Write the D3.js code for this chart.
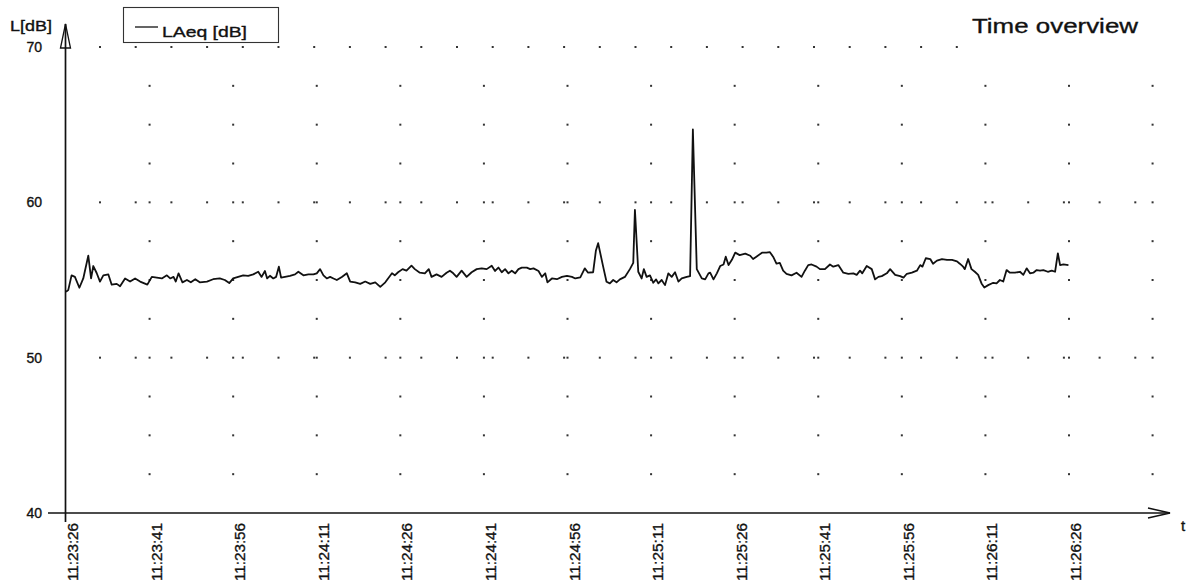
<!DOCTYPE html>
<html>
<head>
<meta charset="utf-8">
<script src="https://cdn.jsdelivr.net/npm/d3@7/dist/d3.min.js"></script>
<style>
  html, body { margin: 0; padding: 0; background: #ffffff; }
  svg { display: block; font-family: "Liberation Sans", Arial, sans-serif; }
  .lbl { stroke: #111; stroke-width: 0.35px; }
</style>
</head>
<body>
<svg id="chart" width="1187" height="588"></svg>
<script>
// ---- data (seconds after 11:23:26, LAeq in dB) ----
const seconds = [
  0.0, 0.4, 1.0, 1.6, 2.4, 3.1, 4.0, 4.5, 4.9, 5.5, 6.1, 6.7, 7.6, 8.2, 9.1, 9.7, 10.6, 11.5, 12.4, 13.3,
  14.6, 15.4, 16.3, 17.2, 18.1, 18.7, 19.3, 19.7, 20.2, 20.9, 21.7, 22.4, 23.2, 24.0, 25.3, 26.4, 27.6, 28.5, 29.3, 30.0,
  30.9, 31.8, 32.7, 33.6, 34.5, 35.1, 35.7, 36.1, 36.6, 37.2, 37.7, 38.2, 38.6, 39.3, 40.2, 41.1, 41.7, 42.6, 43.5, 44.4,
  45.0, 45.6, 46.2, 46.8, 47.4, 48.0, 48.6, 49.5, 50.4, 51.0, 51.9, 52.8, 53.7, 54.6, 55.5, 56.4, 57.3, 57.8, 58.5, 59.0,
  59.6, 60.4, 61.1, 62.0, 62.6, 63.5, 64.4, 65.1, 65.6, 66.5, 67.4, 68.3, 68.9, 69.5, 70.1, 71.0, 71.9, 72.8, 73.7, 74.6,
  75.5, 76.4, 77.0, 77.6, 78.2, 78.8, 79.4, 80.0, 80.6, 81.2, 81.8, 82.7, 83.3, 83.9, 84.8, 85.4, 86.0, 86.4, 87.2, 88.1,
  89.0, 89.9, 90.8, 91.4, 92.3, 93.1, 93.7, 94.6, 95.1, 95.5, 96.4, 97.0, 97.6, 98.2, 98.8, 99.4, 100.3, 101.2, 101.8, 102.1,
  102.7, 103.3, 103.7, 104.2, 104.8, 105.4, 105.9, 106.3, 106.9, 107.5, 108.1, 108.7, 109.3, 109.9, 110.5, 111.4, 112.0, 112.5, 113.2, 114.1,
  114.7, 115.3, 115.6, 116.2, 116.8, 117.4, 118.0, 118.4, 118.9, 119.5, 120.1, 120.9, 121.9, 122.8, 123.3, 123.9, 124.9, 125.7, 126.3, 126.9,
  127.5, 128.1, 128.7, 129.3, 130.2, 131.1, 132.0, 132.6, 133.2, 133.8, 134.7, 135.3, 136.2, 137.1, 137.7, 138.6, 139.5, 140.4, 141.3, 141.9,
  142.5, 142.9, 143.7, 144.6, 145.2, 145.8, 146.4, 147.3, 147.9, 148.8, 149.7, 150.3, 150.9, 151.8, 152.7, 153.3, 153.7, 154.3, 155.1, 155.6,
  156.3, 157.2, 158.1, 159.0, 159.9, 160.4, 161.0, 161.3, 161.9, 162.5, 163.1, 163.7, 164.3, 164.8, 165.5, 166.4, 167.0, 167.6, 168.2, 168.8,
  169.4, 170.3, 171.2, 171.8, 172.4, 173.0, 173.6, 174.2, 174.8, 175.4, 176.2, 176.9, 177.5, 178.0, 178.4, 179.0, 179.9
];
const laeq = [
  54.24, 54.35, 55.3, 55.2, 54.5, 55.1, 56.57, 55.1, 55.9, 55.45, 54.9, 55.3, 55.36, 54.7, 54.75, 54.6, 55.1, 54.9, 55.1, 54.9,
  54.7, 55.2, 55.15, 55.1, 55.3, 55.1, 55.2, 54.9, 55.43, 54.85, 55.0, 54.85, 55.05, 54.85, 54.9, 55.05, 55.1, 55.0, 54.8, 55.1,
  55.2, 55.3, 55.27, 55.36, 55.53, 55.2, 55.58, 55.1, 55.27, 55.1, 55.2, 55.86, 55.15, 55.2, 55.27, 55.36, 55.53, 55.3, 55.36, 55.36,
  55.43, 55.7, 55.3, 55.1, 55.2, 55.1, 55.0, 55.2, 55.43, 54.9, 54.85, 54.75, 54.9, 54.75, 54.85, 54.56, 54.85, 55.1, 55.43, 55.3,
  55.5, 55.7, 55.6, 55.92, 55.7, 55.47, 55.43, 55.7, 55.2, 55.36, 55.2, 55.47, 55.6, 55.43, 55.2, 55.6, 55.2, 55.5, 55.7, 55.75,
  55.7, 55.92, 55.58, 55.8, 55.5, 55.7, 55.43, 55.6, 55.43, 55.7, 55.8, 55.8, 55.7, 55.75, 55.58, 55.2, 55.43, 54.85, 55.1, 55.05,
  55.2, 55.27, 55.2, 55.1, 55.17, 55.75, 55.47, 55.5, 56.9, 57.37, 55.86, 54.89, 54.78, 55.0, 54.85, 55.04, 55.2, 55.7, 56.1, 59.52,
  55.53, 55.1, 55.7, 55.2, 55.3, 54.82, 55.04, 54.78, 55.0, 54.67, 55.43, 55.2, 55.5, 54.9, 55.1, 55.2, 55.25, 64.69, 55.7, 55.1,
  55.04, 55.43, 55.47, 55.04, 55.43, 55.9, 56.0, 56.5, 55.96, 56.3, 56.76, 56.6, 56.7, 56.56, 56.35, 56.5, 56.76, 56.76, 56.8, 56.5,
  56.05, 56.1, 55.6, 55.4, 55.3, 55.47, 55.2, 55.6, 55.96, 56.0, 55.86, 55.7, 55.7, 56.0, 55.86, 55.96, 55.47, 55.4, 55.43, 55.33,
  55.6, 55.43, 55.9, 55.7, 55.04, 55.2, 55.25, 55.43, 55.7, 55.33, 55.25, 55.15, 55.4, 55.47, 55.6, 55.96, 55.86, 56.4, 56.35, 56.05,
  56.25, 56.35, 56.3, 56.3, 56.2, 56.05, 55.86, 55.7, 56.35, 55.7, 55.53, 55.33, 54.78, 54.52, 54.67, 54.82, 54.78, 55.0, 54.9, 55.64,
  55.47, 55.47, 55.53, 55.33, 55.75, 55.43, 55.47, 55.64, 55.6, 55.64, 55.53, 55.6, 55.53, 56.72, 55.96, 56.0, 55.96
];
const tickSeconds = [0, 15, 30, 45, 60, 75, 90, 105, 120, 135, 150, 165, 180];
const tickLabels = ["11:23:26", "11:23:41", "11:23:56", "11:24:11", "11:24:26", "11:24:41", "11:24:56",
                    "11:25:11", "11:25:26", "11:25:41", "11:25:56", "11:26:11", "11:26:26"];
const yTicks = [40, 50, 60, 70];
const yTickLabels = ["40", "50", "60", "70"];
const gridRows = [42.5, 45, 47.5, 50, 52.5, 55, 57.5, 60, 62.5, 65, 67.5];
const gridCols = [15, 30, 45, 60, 75, 90, 105, 120, 135, 150, 165, 180, 195];
const denseRows = [50, 60, 70];
const seriesName = "LAeq [dB]";

// ---- drawing ----
const svg = d3.select("#chart");
const x = d3.scaleLinear().domain([0, 180]).range([66, 1069]);
const y = d3.scaleLinear().domain([40, 70]).range([513, 47]);
const ink = "#111";
const dotInk = "#333";

// dotted grid: column dots every 2.5 dB
const g = svg.append("g");
gridRows.forEach(r => {
  gridCols.forEach(c => {
    g.append("rect").attr("x", x(c) - 1).attr("y", y(r) - 1)
      .attr("width", 2).attr("height", 2).attr("fill", dotInk);
  });
});
// dense dots on the 10 dB rows
denseRows.forEach(r => {
  const xEnd = r === 70 ? 965 : 1160;
  for (let px = 100; px <= xEnd; px += 35.7) {
    g.append("rect").attr("x", px - 1).attr("y", y(r) - 1)
      .attr("width", 2).attr("height", 2).attr("fill", dotInk);
  }
});

// axes
const x0 = x(0) - 0.5;
const xTip = 1170;
svg.append("line").attr("x1", 48).attr("x2", xTip).attr("y1", y(40)).attr("y2", y(40))
  .attr("stroke", ink).attr("stroke-width", 1.7);
svg.append("path")
  .attr("d", `M${xTip - 22},${y(40) - 5} L${xTip},${y(40)} L${xTip - 22},${y(40) + 5}`)
  .attr("fill", "none").attr("stroke", ink).attr("stroke-width", 1.5);
svg.append("line").attr("x1", x0).attr("x2", x0).attr("y1", y(40) + 9).attr("y2", 24)
  .attr("stroke", ink).attr("stroke-width", 1.7);
svg.append("path")
  .attr("d", `M${x0 - 5},48 L${x0},24 L${x0 + 5},48 Z`)
  .attr("fill", "none").attr("stroke", ink).attr("stroke-width", 1.3);

// y labels
svg.append("g").selectAll("text").data(yTicks).join("text")
  .attr("class", "lbl")
  .attr("x", 42).attr("y", d => y(d)).attr("dy", "0.36em")
  .attr("text-anchor", "end").attr("font-size", 14).attr("fill", ink)
  .text((d, i) => yTickLabels[i]);
svg.append("text").attr("class", "lbl").attr("x", 52).attr("y", 31).attr("text-anchor", "end")
  .attr("font-size", 15).attr("fill", ink)
  .attr("textLength", 42).attr("lengthAdjust", "spacingAndGlyphs").text("L[dB]");

// x tick labels (rotated)
svg.append("g").selectAll("text").data(tickSeconds).join("text")
  .attr("class", "lbl")
  .attr("transform", d => `translate(${x(d) + 12},523) rotate(-90)`)
  .attr("text-anchor", "end").attr("font-size", 15).attr("fill", ink)
  .attr("textLength", 58).attr("lengthAdjust", "spacingAndGlyphs")
  .text((d, i) => tickLabels[i]);
svg.append("text").attr("class", "lbl").attr("x", 1183).attr("y", 531).attr("text-anchor", "middle")
  .attr("font-size", 15).attr("fill", ink).text("t");

// series line
const line = d3.line().x((d, i) => x(seconds[i])).y(d => y(d));
svg.append("path").datum(laeq).attr("d", line)
  .attr("fill", "none").attr("stroke", ink).attr("stroke-width", 1.8)
  .attr("stroke-linejoin", "round");

// legend
svg.append("rect").attr("x", 123.5).attr("y", 7.5).attr("width", 155).attr("height", 35)
  .attr("fill", "#fff").attr("stroke", "#333").attr("stroke-width", 1.1);
svg.append("line").attr("x1", 135).attr("x2", 158).attr("y1", 27).attr("y2", 27)
  .attr("stroke", ink).attr("stroke-width", 1.3);
svg.append("text").attr("class", "lbl").attr("x", 162).attr("y", 37).attr("font-size", 15).attr("fill", ink)
  .attr("textLength", 85).attr("lengthAdjust", "spacingAndGlyphs").text(seriesName);

// title
svg.append("text").attr("class", "lbl").attr("x", 972).attr("y", 33).attr("font-size", 21).attr("fill", ink)
  .attr("textLength", 166).attr("lengthAdjust", "spacingAndGlyphs").text("Time overview");
</script>
</body>
</html>
